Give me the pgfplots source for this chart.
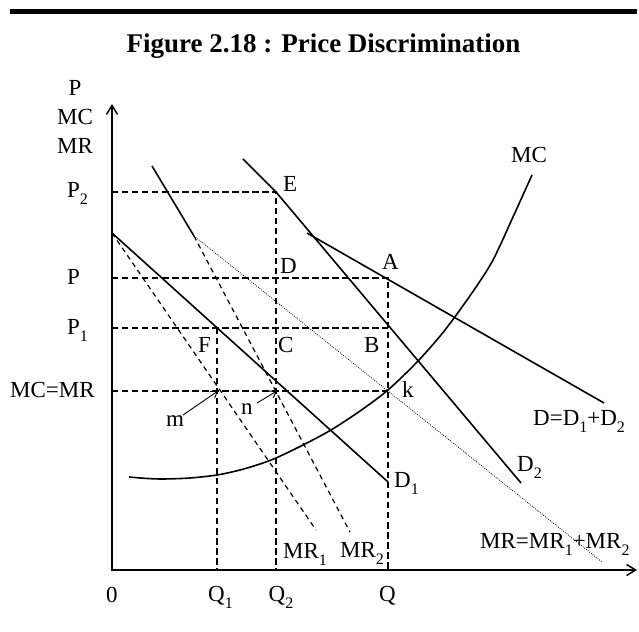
\documentclass[border=0pt]{standalone}
\usepackage{pgfplots}
\pgfplotsset{compat=1.18}
\usetikzlibrary{arrows.meta}
\usepackage{fontspec}
\setmainfont{Liberation Serif}
\newcommand\sub[1]{\raisebox{-7pt}{\fontsize{16}{16}\selectfont #1}}
\tikzset{
  lab/.style={font=\fontsize{23}{27}\selectfont,inner sep=0pt},
  thd/.style={black,line width=1.8pt,dash pattern=on 6.5pt off 3.5pt},
  sol/.style={black,line width=1.6pt},
  thn/.style={black,line width=1.2pt,dash pattern=on 5pt off 4pt},
  dot/.style={black,line width=0.8pt,dash pattern=on 0.8pt off 1.3pt},
}
\begin{document}
\begin{tikzpicture}
\begin{axis}[x=1pt,y=1pt,xmin=0,xmax=525,ymin=0,ymax=466,hide axis,clip=false,
  anchor=origin,at={(0pt,0pt)}]
% axes
\addplot[black,line width=2pt,-{Straight Barb[length=9pt,width=11pt,line width=1.5pt]}] coordinates {(0,-1) (0,466)};
\addplot[black,line width=2pt,-{Straight Barb[length=9pt,width=11pt,line width=1.5pt]}] coordinates {(-1,0) (525,0)};
% dashed guide lines
\addplot[thd] coordinates {(0,378) (164,378) (164,0)};
\addplot[thd] coordinates {(0,292) (276,292) (276,0)};
\addplot[thd] coordinates {(0,242) (276,242)};
\addplot[thd] coordinates {(105,242) (105,0)};
\addplot[thd] coordinates {(0,179) (276,179)};
% demand curves
\addplot[sol] coordinates {(0,337) (276,88)};
\addplot[sol] coordinates {(131,411) (164,378) (409,87)};
\addplot[sol] coordinates {(195,337) (492,167)};
% marginal revenue
\addplot[sol] coordinates {(40,404) (82,334)};
\addplot[thn] coordinates {(0,337) (204,40)};
\addplot[thn] coordinates {(82,334) (238,38)};
\addplot[dot] coordinates {(82,334) (490,8)};
% MC
\addplot[sol,smooth] coordinates {(17,93) (34,91.6) (51,91) (78,92) (105,95) (128,100) (148,106) (164,112) (191,125) (219,140) (248,159) (276,180) (306,209) (333,240) (362,280) (381,310) (401,353) (420,395)};
% pointer arrows
\addplot[black,line width=0.9pt,-{Straight Barb[length=6pt,width=8pt,line width=0.9pt]}] coordinates {(71,155) (106,179)};
\addplot[black,line width=0.9pt,-{Straight Barb[length=6pt,width=8pt,line width=0.9pt]}] coordinates {(145,167) (165,179)};
% top rule and title
\draw[line width=4.7pt] (axis cs:-102,558.3) -- (axis cs:525,558.3);
\node[font=\bfseries\fontsize{27}{30}\selectfont,inner sep=0pt,anchor=base] at (axis cs:211.5,517) {Figure 2.18 : Price Discrimination};
% labels
\node[lab,anchor=base] at (axis cs:-37,474.4) {P};
\node[lab,anchor=base] at (axis cs:-37,445.7) {MC};
\node[lab,anchor=base] at (axis cs:-37,416.4) {MR};
\node[lab,anchor=base west] at (axis cs:-45,372.4) {P\sub{2}};
\node[lab,anchor=base west] at (axis cs:-45,285.4) {P};
\node[lab,anchor=base west] at (axis cs:-45,235.7) {P\sub{1}};
\node[lab,anchor=base west] at (axis cs:-102,172.4) {MC=MR};
\node[lab,anchor=base west] at (axis cs:171,378) {E};
\node[lab,anchor=base west] at (axis cs:168,296) {D};
\node[lab,anchor=base west] at (axis cs:166,217) {C};
\node[lab,anchor=base west] at (axis cs:86,217) {F};
\node[lab,anchor=base west] at (axis cs:270,300) {A};
\node[lab,anchor=base west] at (axis cs:252,217) {B};
\node[lab,anchor=base west] at (axis cs:290,172) {k};
\node[lab,anchor=base west] at (axis cs:54,143) {m};
\node[lab,anchor=base west] at (axis cs:129,155) {n};
\node[lab,anchor=base west] at (axis cs:282,82) {D\sub{1}};
\node[lab,anchor=base west] at (axis cs:405,98) {D\sub{2}};
\node[lab,anchor=base west] at (axis cs:421,144) {D=D\sub{1}+D\sub{2}};
\node[lab,anchor=base west] at (axis cs:171,12) {MR\sub{1}};
\node[lab,anchor=base west] at (axis cs:228,13) {MR\sub{2}};
\node[lab,anchor=base west] at (axis cs:368,22) {MR=MR\sub{1}+MR\sub{2}};
\node[lab,anchor=base] at (axis cs:417,407) {MC};
\node[lab,anchor=base] at (axis cs:0,-32) {0};
\node[lab,anchor=base] at (axis cs:104.5,-31) {Q\rlap{\sub{1}}};
\node[lab,anchor=base] at (axis cs:165,-31) {Q\rlap{\sub{2}}};
\node[lab,anchor=base] at (axis cs:275.5,-31) {Q};
\end{axis}
\pgfresetboundingbox
\path[use as bounding box] (-112pt,-61pt) rectangle (527pt,570pt);
\end{tikzpicture}
\end{document}
